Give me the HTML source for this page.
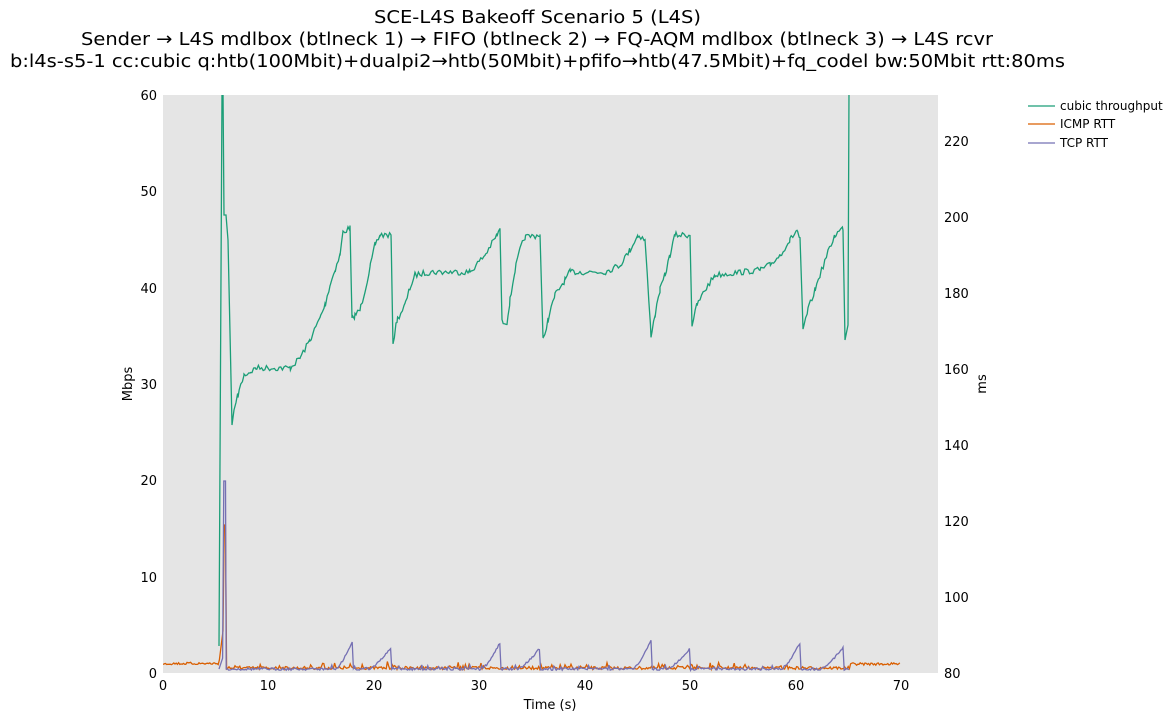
<!DOCTYPE html>
<html><head><meta charset="utf-8"><style>
body{margin:0;background:#fff;width:1174px;height:721px;overflow:hidden}
svg{font-family:"DejaVu Sans","Liberation Sans",sans-serif}
</style></head><body>
<svg id="s" width="1174" height="721" xmlns="http://www.w3.org/2000/svg">
<text x="374" y="23" font-size="18" textLength="327" lengthAdjust="spacingAndGlyphs">SCE-L4S Bakeoff Scenario 5 (L4S)</text>
<text x="81" y="45" font-size="18" textLength="912" lengthAdjust="spacingAndGlyphs">Sender → L4S mdlbox (btlneck 1) → FIFO (btlneck 2) → FQ-AQM mdlbox (btlneck 3) → L4S rcvr</text>
<text x="10" y="67" font-size="18" textLength="1055" lengthAdjust="spacingAndGlyphs">b:l4s-s5-1 cc:cubic q:htb(100Mbit)+dualpi2→htb(50Mbit)+pfifo→htb(47.5Mbit)+fq_codel bw:50Mbit rtt:80ms</text>
<rect x="163" y="95" width="775" height="578" fill="#e5e5e5"/>
<g font-size="13" fill="#000">
<text x="157" y="678" text-anchor="end">0</text><text x="157" y="582" text-anchor="end">10</text>
<text x="157" y="485" text-anchor="end">20</text><text x="157" y="389" text-anchor="end">30</text>
<text x="157" y="293" text-anchor="end">40</text><text x="157" y="196" text-anchor="end">50</text>
<text x="157" y="100" text-anchor="end">60</text>
<text x="944" y="678">80</text><text x="944" y="602">100</text><text x="944" y="526">120</text>
<text x="944" y="450">140</text><text x="944" y="374">160</text><text x="944" y="298">180</text>
<text x="944" y="222">200</text><text x="944" y="146">220</text>
<text x="163" y="690" text-anchor="middle">0</text><text x="268" y="690" text-anchor="middle">10</text>
<text x="374" y="690" text-anchor="middle">20</text><text x="479" y="690" text-anchor="middle">30</text>
<text x="585" y="690" text-anchor="middle">40</text><text x="690" y="690" text-anchor="middle">50</text>
<text x="796" y="690" text-anchor="middle">60</text><text x="901" y="690" text-anchor="middle">70</text>
<text x="550" y="709" text-anchor="middle">Time (s)</text>
<text transform="translate(132,384) rotate(-90)" text-anchor="middle">Mbps</text>
<text transform="translate(986,384) rotate(-90)" text-anchor="middle">ms</text>
</g>
<g font-size="12">
<line x1="1028" y1="106" x2="1055" y2="106" stroke="#1b9e77" stroke-width="1.3"/><text x="1060" y="110">cubic throughput</text>
<line x1="1028" y1="124" x2="1055" y2="124" stroke="#d95f02" stroke-width="1.3"/><text x="1060" y="128">ICMP RTT</text>
<line x1="1028" y1="143" x2="1055" y2="143" stroke="#7570b3" stroke-width="1.3"/><text x="1060" y="147">TCP RTT</text>
</g>
<defs><clipPath id="c"><rect x="163" y="95" width="775" height="578"/></clipPath></defs>
<g id="g" clip-path="url(#c)" fill="none" stroke-width="1.3"></g>
</svg>
<script>
var seed=7;function r(){seed=(seed*16807)%2147483647;return seed/2147483647-0.5;}
var g=document.getElementById('g');
function add(pts,col){var p=document.createElementNS('http://www.w3.org/2000/svg','polyline');p.setAttribute('points',pts.map(function(a){return a[0].toFixed(1)+','+a[1].toFixed(1)}).join(' '));p.setAttribute('stroke',col);g.appendChild(p);}
function interp(k,x){for(var i=1;i<k.length;i++){if(x<=k[i][0]){var a=k[i-1],b=k[i];if(b[0]==a[0])return b[1];return a[1]+(b[1]-a[1])*(x-a[0])/(b[0]-a[0]);}}return k[k.length-1][1];}
var K=[[219,646],[222,90],[223,90],[224,215],[226,215],[228,240],[232,425],[234,410],[238,395],[244,375],[250,372],[256,368],[290,368],[300,358],[310,340],[320,318],[325,305],[330,285],[335,270],[340,255],[343,232],[350,228],[352,320],[355,315],[360,310],[365,290],[370,268],[375,245],[380,235],[391,235],[393,343],[397,320],[405,305],[410,288],[415,275],[430,272],[470,272],[485,255],[497,235],[500,230],[502,322],[507,322],[510,300],[515,270],[520,250],[525,237],[540,235],[543,340],[548,320],[555,295],[565,280],[570,272],[605,272],[620,265],[630,250],[638,235],[645,240],[651,335],[655,315],[660,290],[665,275],[670,255],[675,235],[690,235],[692,325],[697,305],[705,290],[715,275],[760,270],[770,265],[780,255],[790,240],[797,230],[800,240],[803,330],[808,310],[815,290],[820,275],[827,255],[835,235],[843,228],[845,340],[848,325],[849,90]];
var pts=[];var xs=[];K.forEach(function(k){xs.push(k[0]);});
for(var x=236;x<845;x+=1.6)xs.push(x);xs.sort(function(a,b){return a-b});
xs.forEach(function(x){var y=interp(K,x);var j=(x>236&&x<844)?r()*6:0;pts.push([x,y+j]);});
add(pts,'#1b9e77');
var ic=[];for(var x=163;x<=901;x+=1.2){var y;
if(x<219)y=663.5+r()*2.5;else if(x<224)y=663-(x-219)*8;else if(x<225.5)y=525;else if(x<227)y=669;
else if(x<850)y=668+r()*3+(Math.random()<0.12?-5*Math.random():0);else y=664+r()*2.5;
ic.push([x,y]);}
add(ic,'#d95f02');
var sp=[[352,643,16],[391,648,22],[500,643,18],[540,648,22],[651,641,18],[690,648,22],[800,643,18],[843,648,22]];
var tc=[];for(var x=219;x<=850;x+=1.2){var y;
if(x<223)y=669-(x-219)*3;else if(x<226)y=481;else if(x<228)y=669;else{
y=669+r()*2.5+(x>330&&Math.random()<0.1?-4*Math.random():0);
sp.forEach(function(s){if(x>s[0]-s[2]&&x<=s[0]+0.5){var t=(x-(s[0]-s[2]))/s[2];y=Math.min(y,669-(669-s[1])*Math.pow(t,1.3)+r()*2);}});}
tc.push([x,y]);}
tc.splice(2,0,[224,481],[225.5,481],[226.5,669]);
tc.sort(function(a,b){return a[0]-b[0]});
add(tc,'#7570b3');
</script>
</body></html>
